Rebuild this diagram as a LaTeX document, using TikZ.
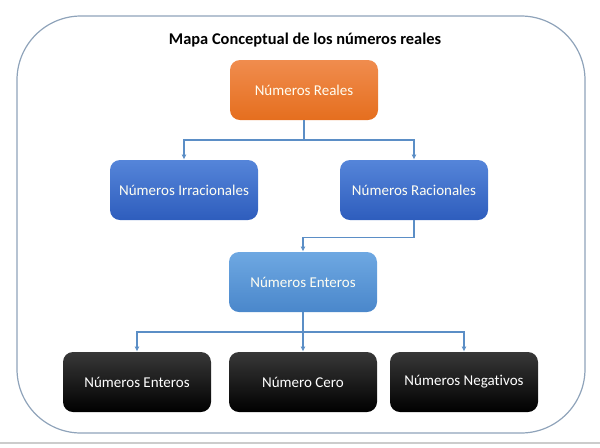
\documentclass[tikz,border=0pt]{standalone}
\usepackage{fontspec}
\setmainfont[Ligatures=NoCommon]{Carlito}
\usetikzlibrary{arrows.meta}

\definecolor{framecol}{HTML}{8FA3BA}
\definecolor{linkcol}{HTML}{5B8EC6}
\definecolor{orangetop}{HTML}{F08C4E}
\definecolor{orangebot}{HTML}{E56E1E}
\definecolor{bluetop}{HTML}{5585D9}
\definecolor{bluebot}{HTML}{2E5DBD}
\definecolor{lighttop}{HTML}{6EA8E2}
\definecolor{lightbot}{HTML}{4A87CB}

\tikzset{
  box/.style={rounded corners=5pt,minimum width=74pt,minimum height=30pt,
    text=white!95!yellow,font=\fontsize{7.5}{9}\selectfont,inner sep=0pt},
  orangebox/.style={box,top color=orangetop,bottom color=orangebot},
  bluebox/.style={box,top color=bluetop,bottom color=bluebot},
  lightbox/.style={box,top color=lighttop,bottom color=lightbot},
  blackbox/.style={box,top color=black!78,bottom color=black,text=white},
  conn/.style={linkcol,line width=0.8pt,-{Latex[length=2.5pt,width=2.5pt]}},
}

\begin{document}
\begin{tikzpicture}[x=0.5pt,y=-0.5pt]
\useasboundingbox (0,0) rectangle (600,447);
\draw[framecol,line width=0.6pt,rounded corners=32pt] (17,16) rectangle (585,433);
\draw[black!20,line width=0.8pt] (0,443) -- (600,443);

\node[font=\fontsize{8.2}{10}\selectfont\bfseries] (title) at (305,40) {Mapa Conceptual de los números reales};

\node[orangebox] (reales) at (304,90) {Números Reales};
\node[bluebox] (irr) at (184,190) {Números Irracionales};
\node[bluebox] (rac) at (414,190) {Números Racionales};
\node[lightbox] (ent) at (303,282) {Números Enteros};
\node[blackbox] (ent2) at (137,382) {Números Enteros};
\node[blackbox] (cero) at (303,382) {Número Cero};
\node[blackbox] (neg) at (464,382) {Números Negativos};

% conectores
\coordinate (j1) at (304,140);
\coordinate (j2) at (303,332);
\draw[conn] (reales.south) -- (j1) -| (irr.north);
\draw[conn] (j1) -| (rac.north);
\draw[conn] (rac.south) -- ++(0,17) -| (ent.north);
\draw[conn] (ent.south) -- (j2) -| (ent2.north);
\draw[conn] (j2) -- (cero.north);
\draw[conn] (j2) -| (neg.north);
\end{tikzpicture}
\end{document}
